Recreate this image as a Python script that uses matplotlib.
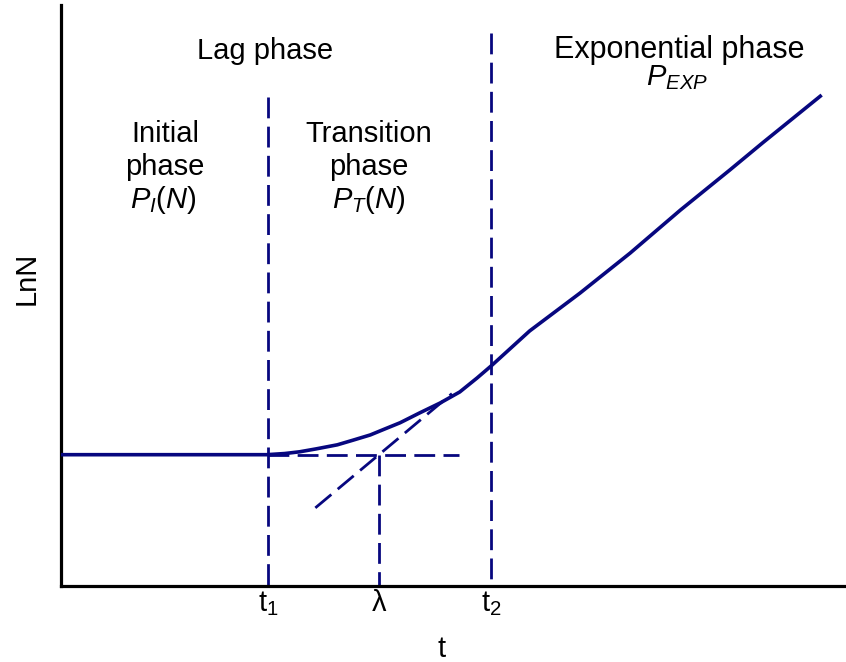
import matplotlib
matplotlib.use("Agg")
import matplotlib.pyplot as plt

plt.rcParams["font.family"] = ["Liberation Sans", "DejaVu Sans"]
plt.rcParams["mathtext.fontset"] = "custom"
plt.rcParams["mathtext.rm"] = "Liberation Sans"
plt.rcParams["mathtext.it"] = "Liberation Sans:italic"

# growth curve (time vs. log population)
t_curve = [0.0, 2.62, 2.85, 3.04, 3.25, 3.52, 3.72, 3.94, 4.12, 4.32, 4.57,
           4.83, 5.08, 5.30, 5.49, 5.97, 6.61, 7.25, 7.89, 8.52, 8.94, 9.69]
lnN_curve = [2.26, 2.26, 2.28, 2.31, 2.36, 2.43, 2.51, 2.60, 2.70, 2.81, 2.98,
             3.15, 3.34, 3.58, 3.80, 4.39, 5.04, 5.73, 6.47, 7.16, 7.63, 8.45]

# characteristic times
t1 = 2.64
lam = 4.05
t2 = 5.48
baseline = 2.26
mu_max = 1.13          # slope of the tangent at maximum growth rate
tangent_span = [3.24, 4.98]
baseline_end = 5.07
t1_top = 8.42
t2_top = 9.52

tick_positions = [t1, lam, t2]
tick_labels = [r"$\mathrm{t_1}$", r"$\mathrm{\lambda}$", r"$\mathrm{t_2}$"]

navy = "#07077f"
dash = (0, (7.5, 3.0))
dlw = 2.0

fig = plt.figure(figsize=(8.46, 6.62), dpi=100)
ax = fig.add_axes([61 / 846, 76 / 662, 785 / 846, 581 / 662])
ax.set_xlim(0, 10)
ax.set_ylim(0, 10)

ax.plot(t_curve, lnN_curve, color=navy, lw=2.6, solid_capstyle="butt",
        solid_joinstyle="round", zorder=3)

# reference dashed lines
ax.plot([t1, t1], [t1_top, 0], color=navy, lw=dlw, linestyle=dash)
ax.plot([t2, t2], [t2_top, 0], color=navy, lw=dlw, linestyle=dash)
ax.plot([lam, lam], [baseline, 0], color=navy, lw=dlw, linestyle=dash)
ax.plot([t1, baseline_end], [baseline, baseline], color=navy, lw=dlw, linestyle=dash)
tan_y = [baseline + mu_max * (x - lam) for x in tangent_span]
ax.plot(tangent_span, tan_y, color=navy, lw=dlw, linestyle=dash)

for s in ("top", "right"):
    ax.spines[s].set_visible(False)
for s in ("left", "bottom"):
    ax.spines[s].set_linewidth(2.3)
    ax.spines[s].set_color("black")

ax.set_yticks([])
ax.set_xticks(tick_positions)
ax.set_xticklabels(tick_labels, fontsize=21)
ax.tick_params(axis="x", length=0, pad=2)
ax.set_xlabel("t", fontsize=21)
ax.xaxis.set_label_coords(0.485, -0.085)
fig.text(27 / 846, 1 - 278 / 662, "LnN", rotation=90, ha="center",
         va="center", fontsize=21)

def px(xp, yp):
    """Figure-pixel position to figure fraction."""
    return xp / 846, 1 - yp / 662

fs = 21
labels = [
    ("Lag phase", 265, 59, fs),
    ("Initial", 165, 142, fs),
    ("phase", 165, 175, fs),
    (r"$\mathit{P_I(N)}$", 163, 208, fs),
    ("Transition", 369, 142, fs),
    ("phase", 369, 175, fs),
    (r"$\mathit{P_T(N)}$", 369, 208, fs),
    ("Exponential phase", 679, 58, 22),
    (r"$\mathit{P_{EXP}}$", 677, 85, 21),
]
for txt, xp, yp, size in labels:
    x, y = px(xp, yp)
    fig.text(x, y, txt, ha="center", va="baseline", fontsize=size)

fig.savefig("out.png", dpi=100)
